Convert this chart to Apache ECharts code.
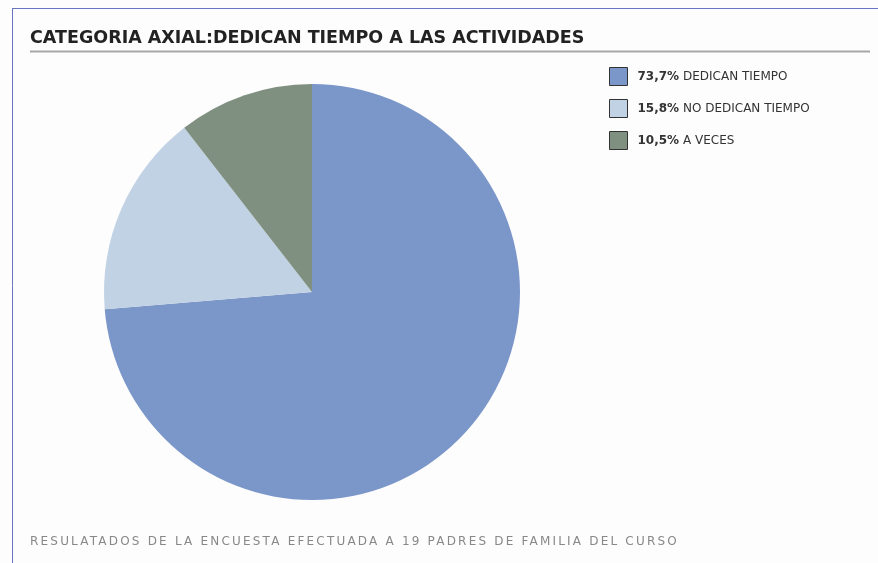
<!DOCTYPE html>
<html>
<head>
<meta charset="utf-8">
<script src="https://cdn.jsdelivr.net/npm/echarts@6/dist/echarts.min.js"></script>
<style>
  html, body { margin: 0; padding: 0; background: #fff; }
  #pieChart { width: 878px; height: 563px; }
</style>
</head>
<body>
<div id="pieChart"></div>
<script>
var categories = ['DEDICAN TIEMPO', 'NO DEDICAN TIEMPO', 'A VECES'];
var counts = [14, 3, 2]; // de 19 padres
var colors = ['#7b96c9', '#c2d2e5', '#7f9080'];

var total = counts.reduce(function (a, b) { return a + b; }, 0);

function pct(v) {
  return (v / total * 100).toFixed(1).replace('.', ',') + '%';
}

var pieDom = document.getElementById('pieChart');
var pieChart = echarts.init(pieDom);

// the footer sits on its own canvas layer so it can get wider letter spacing
try {
  var footLayer = pieChart.getZr().painter.getLayer(1);
  footLayer.ctx.letterSpacing = '2.2px';
} catch (e) {}

var pieData = categories.map(function (name, i) {
  return { name: name, value: counts[i], itemStyle: { color: colors[i] } };
});

var pieOption = {
  backgroundColor: '#fdfdfd',
  animation: false,
  title: {
    text: 'CATEGORIA AXIAL:DEDICAN TIEMPO A LAS ACTIVIDADES',
    left: 25,
    top: 24,
    textStyle: { fontFamily: 'DejaVu Sans', fontWeight: 'bold', fontSize: 17.5, color: '#222' }
  },
  legend: {
    orient: 'vertical',
    left: 604,
    top: 62,
    itemWidth: 18,
    itemHeight: 18,
    itemGap: 13,
    icon: 'rect',
    itemStyle: { borderColor: '#333', borderWidth: 1 },
    textStyle: {
      fontFamily: 'DejaVu Sans',
      fontSize: 12,
      color: '#333',
      padding: [0, 0, 0, 5],
      rich: {
        b: { fontFamily: 'DejaVu Sans', fontSize: 12, fontWeight: 'bold', color: '#333' }
      }
    },
    formatter: function (name) {
      var i = categories.indexOf(name);
      return '{b|' + pct(counts[i]) + '} ' + name;
    }
  },
  graphic: [
    // marco azul
    { type: 'line', shape: { x1: 12, y1: 8.5, x2: 878, y2: 8.5 }, style: { stroke: '#6b74c0', lineWidth: 1 } },
    { type: 'line', shape: { x1: 12.5, y1: 8, x2: 12.5, y2: 563 }, style: { stroke: '#6b74c0', lineWidth: 1 } },
    // linea bajo el titulo
    { type: 'line', shape: { x1: 30, y1: 51.5, x2: 870, y2: 51.5 }, style: { stroke: '#a8a8a8', lineWidth: 2 } },
    {
      type: 'text',
      zlevel: 1,
      left: 30,
      top: 536,
      style: {
        text: 'RESULATADOS DE LA ENCUESTA EFECTUADA A 19 PADRES DE FAMILIA DEL CURSO',
        font: '12px "DejaVu Sans"',
        fill: '#888'
      }
    }
  ],
  series: [
    {
      type: 'pie',
      center: [312, 292],
      radius: 208,
      startAngle: 90,
      clockwise: true,
      label: { show: false },
      labelLine: { show: false },
      emphasis: { disabled: true },
      data: pieData
    }
  ]
};

pieChart.setOption(pieOption);

window.addEventListener('resize', function () {
  pieChart.resize();
});
</script>
</body>
</html>
